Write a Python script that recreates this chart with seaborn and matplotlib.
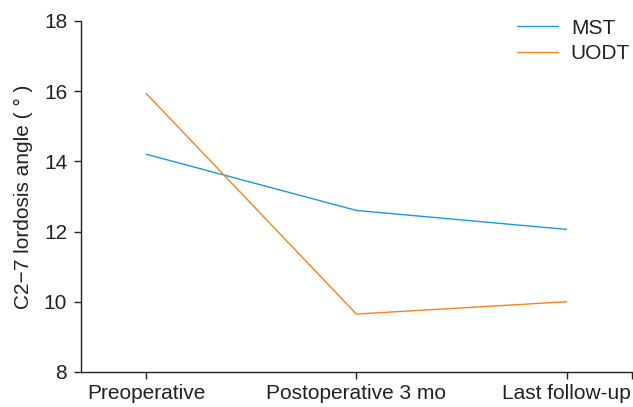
import numpy as np
import pandas as pd

import matplotlib
matplotlib.use('Agg')

import matplotlib.pyplot as plt
import seaborn as sns


# =========================================================
# DATA
# =========================================================

time_points = [
    "Preoperative",
    "Postoperative 3 mo",
    "Last follow-up"
]

mst_vals = [14.2, 12.6, 12.06]

uodt_vals = [15.93, 9.65, 10.0]

groups = ["MST", "UODT"]

df = pd.DataFrame({
    "time": time_points * 2,
    "angle": mst_vals + uodt_vals,
    "group": [groups[0]] * 3 + [groups[1]] * 3,
})

df["pos"] = [0, 1, 2] * 2


# =========================================================
# FIGURE
# =========================================================

sns.set_style("ticks")
plt.rcParams['font.family'] = ['Liberation Sans', 'DejaVu Sans']

fig = plt.figure(figsize=(6.33, 4.07), dpi=100)

ax = fig.add_axes([0.128, 0.086, 0.870, 0.863])

sns.lineplot(
    data=df,
    x="pos",
    y="angle",
    hue="group",
    palette={"MST": "#1a9ad8", "UODT": "#f5821f"},
    linewidth=1.0,
    ax=ax
)

ax.set_xlim(-0.31, 2.31)
ax.set_ylim(8, 18)

ax.set_xticks([0, 1, 2])
ax.set_xticklabels(time_points, fontsize=15, color='#222222')
ax.set_xticks([2.31], minor=True)

ax.set_yticks(np.arange(8, 19, 2))
ax.tick_params(axis='y', labelsize=15, labelcolor='#222222', pad=5)

ax.tick_params(which='both', length=5, width=1, color='#222222')

ax.set_xlabel("")
ax.set_ylabel("C2\u22127 lordosis angle ( \u00b0 )", fontsize=15,
              color='#222222', labelpad=8)

for s in ["top", "right"]:
    ax.spines[s].set_visible(False)

for s in ["left", "bottom"]:
    ax.spines[s].set_color('#222222')
    ax.spines[s].set_linewidth(1)

leg = ax.legend(
    loc='upper right',
    frameon=False,
    fontsize=15,
    handlelength=2.0,
    handletextpad=0.6,
    labelspacing=0.3,
    borderaxespad=0.0,
    bbox_to_anchor=(1.012, 1.03)
)

for t in leg.get_texts():
    t.set_color('#222222')

fig.savefig("out.png", dpi=100)

plt.close()
